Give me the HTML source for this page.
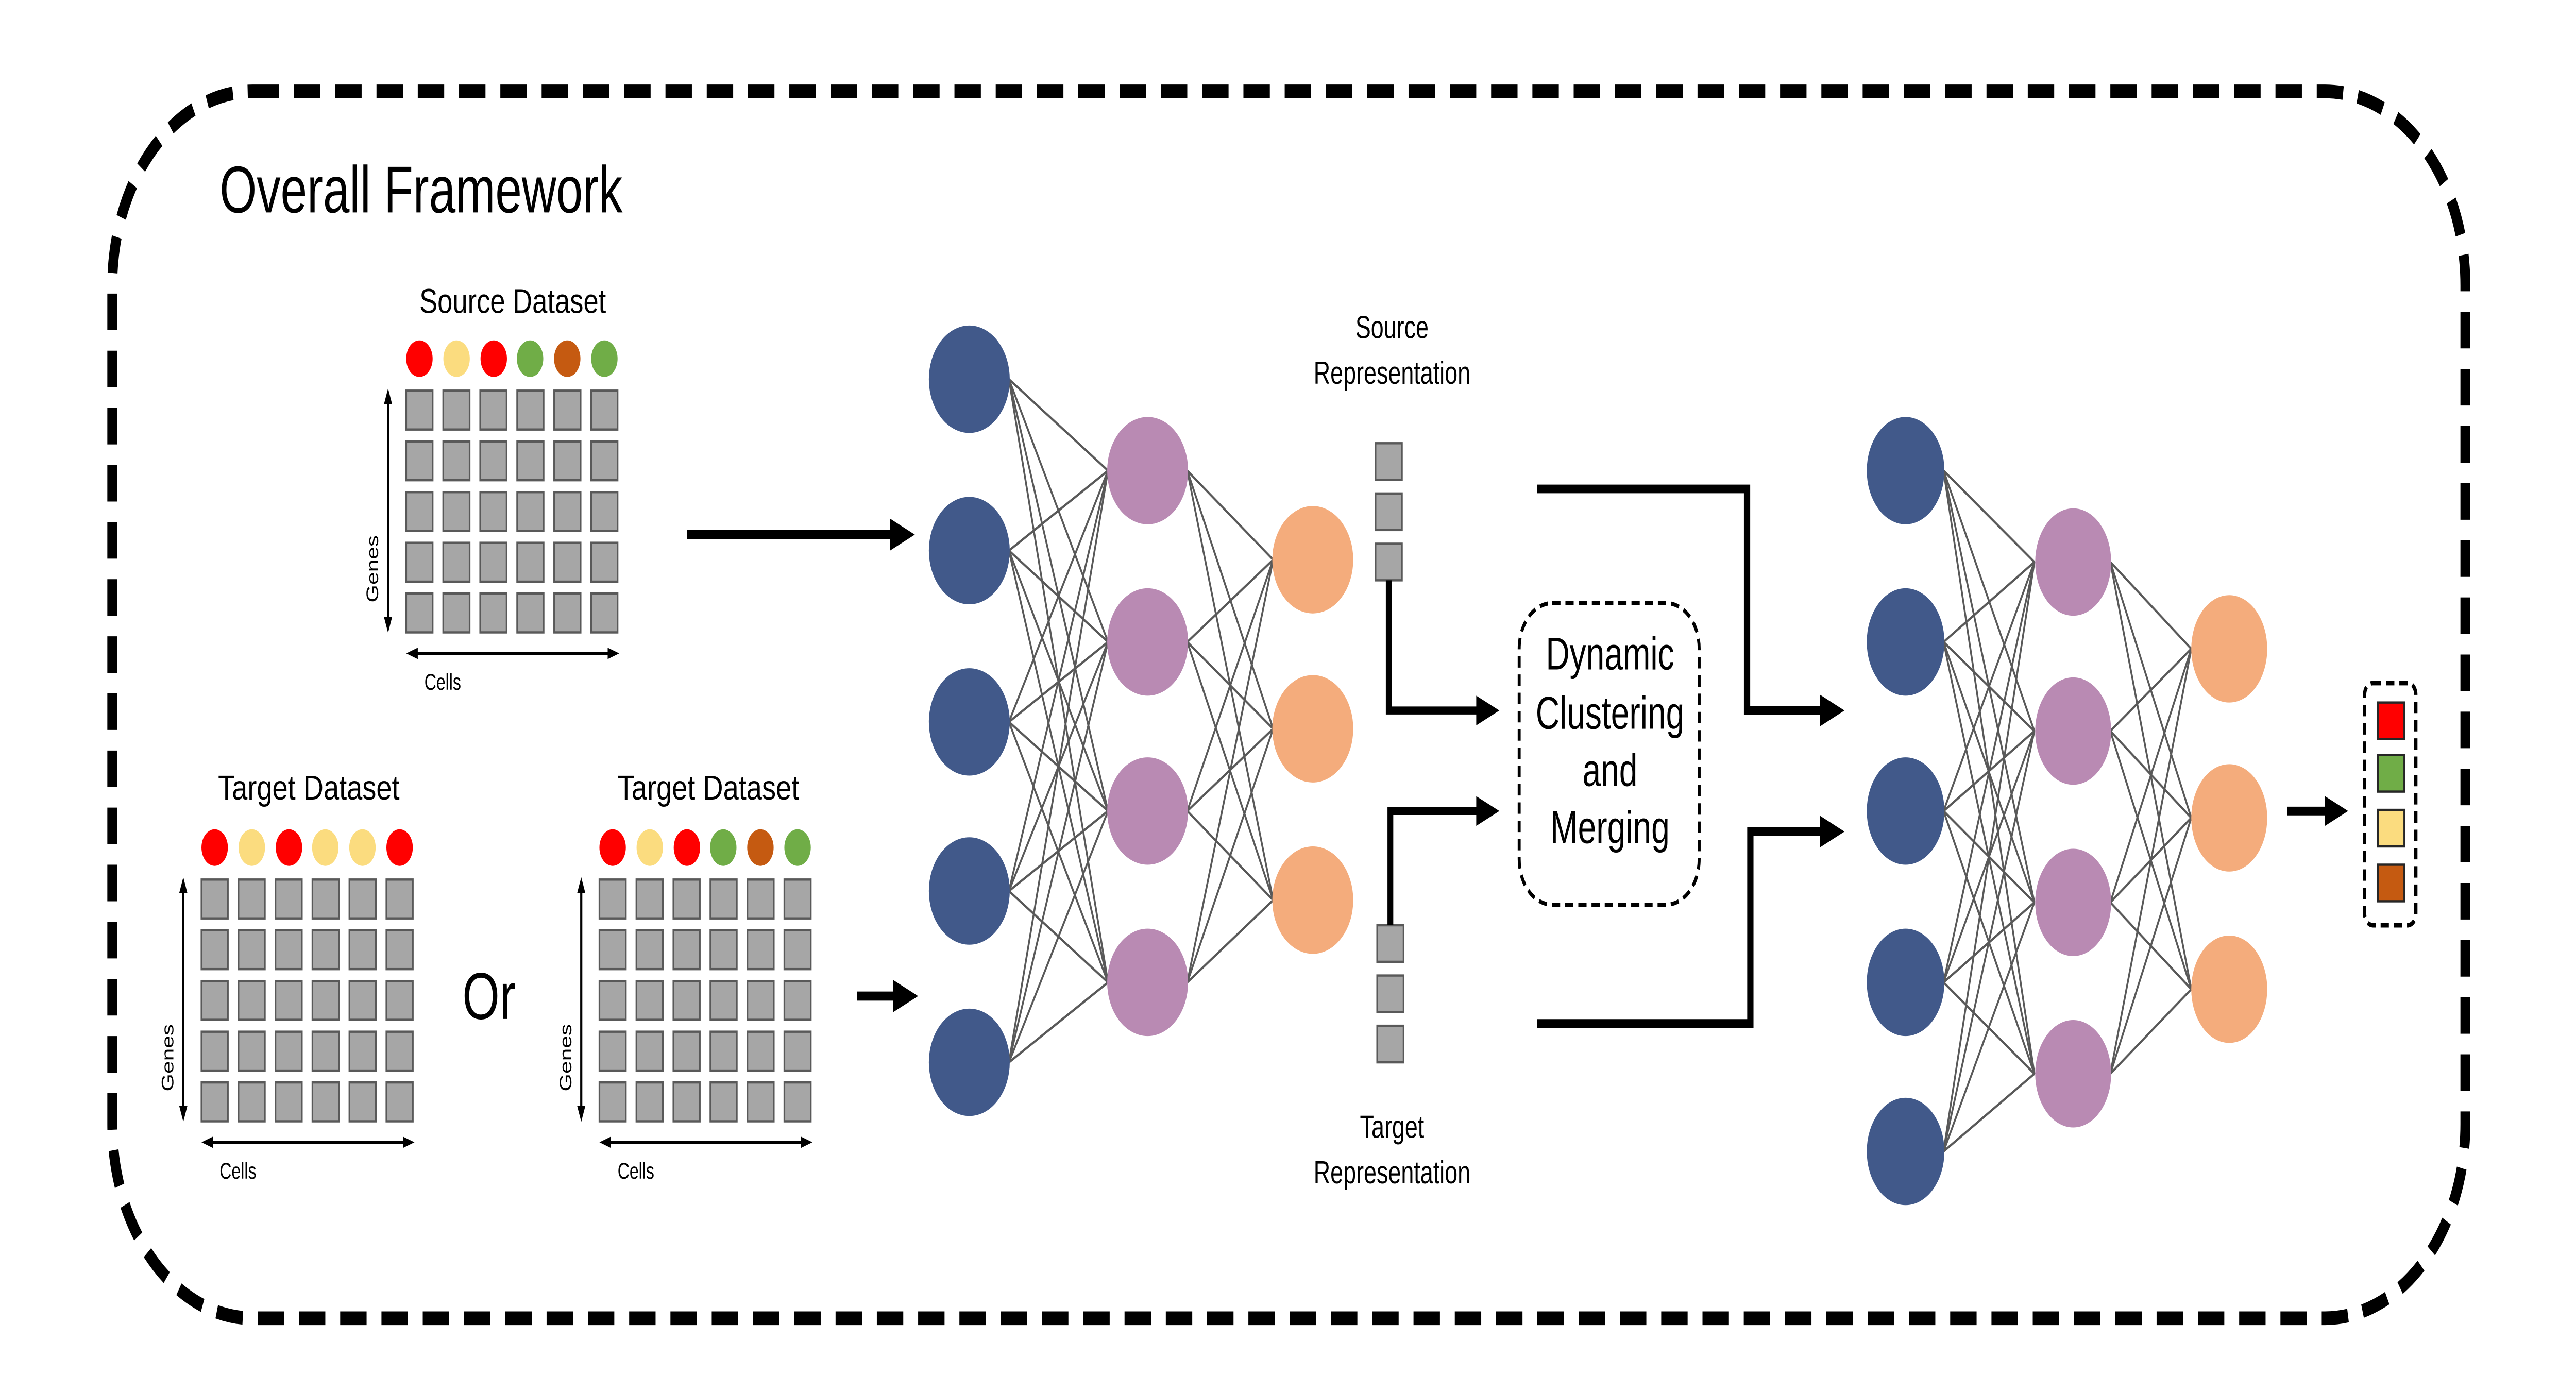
<!DOCTYPE html>
<html><head><meta charset="utf-8"><meta name="viewport" content="width=device-width, initial-scale=1"><style>html,body{margin:0;padding:0;background:#fff;width:100vw;height:100vh;overflow:hidden}svg{display:block;position:absolute;left:0;top:0;width:100vw;height:100vh}</style></head>
<body>
<svg viewBox="0 0 1560 609.3" preserveAspectRatio="none" xmlns="http://www.w3.org/2000/svg" xmlns:xlink="http://www.w3.org/1999/xlink" font-family="Liberation Sans, Arial, sans-serif">
<defs>
<g id="grid" fill="#A6A6A6" stroke="#595959" stroke-width="1">
<rect x="0" y="0" width="16" height="17"/><rect x="22.4" y="0" width="16" height="17"/><rect x="44.8" y="0" width="16" height="17"/><rect x="67.2" y="0" width="16" height="17"/><rect x="89.6" y="0" width="16" height="17"/><rect x="112" y="0" width="16" height="17"/>
<rect x="0" y="22.2" width="16" height="17"/><rect x="22.4" y="22.2" width="16" height="17"/><rect x="44.8" y="22.2" width="16" height="17"/><rect x="67.2" y="22.2" width="16" height="17"/><rect x="89.6" y="22.2" width="16" height="17"/><rect x="112" y="22.2" width="16" height="17"/>
<rect x="0" y="44.4" width="16" height="17"/><rect x="22.4" y="44.4" width="16" height="17"/><rect x="44.8" y="44.4" width="16" height="17"/><rect x="67.2" y="44.4" width="16" height="17"/><rect x="89.6" y="44.4" width="16" height="17"/><rect x="112" y="44.4" width="16" height="17"/>
<rect x="0" y="66.6" width="16" height="17"/><rect x="22.4" y="66.6" width="16" height="17"/><rect x="44.8" y="66.6" width="16" height="17"/><rect x="67.2" y="66.6" width="16" height="17"/><rect x="89.6" y="66.6" width="16" height="17"/><rect x="112" y="66.6" width="16" height="17"/>
<rect x="0" y="88.8" width="16" height="17"/><rect x="22.4" y="88.8" width="16" height="17"/><rect x="44.8" y="88.8" width="16" height="17"/><rect x="67.2" y="88.8" width="16" height="17"/><rect x="89.6" y="88.8" width="16" height="17"/><rect x="112" y="88.8" width="16" height="17"/>
</g>
<g id="axes">
<line x1="-11" y1="3" x2="-11" y2="102" stroke="#000" stroke-width="1.3"/>
<polygon points="-11,-1 -13.5,6 -8.5,6" fill="#000"/><polygon points="-11,106 -13.5,99 -8.5,99" fill="#000"/>
<line x1="4" y1="115" x2="125" y2="115" stroke="#000" stroke-width="1.3"/>
<polygon points="0,115 7,112.5 7,117.5" fill="#000"/><polygon points="129,115 122,112.5 122,117.5" fill="#000"/>
<text x="11" y="131" font-size="10">Cells</text>
<text transform="translate(-17,78) rotate(-90)" font-size="10" text-anchor="middle">Genes</text>
</g>
</defs>

<rect x="68" y="40" width="1425" height="537" rx="85" ry="85" fill="none" stroke="#000" stroke-width="6" stroke-dasharray="16,9"/>

<text x="133" y="93" font-size="29" textLength="244" lengthAdjust="spacingAndGlyphs">Overall Framework</text>

<text x="254" y="137" font-size="15" textLength="113" lengthAdjust="spacingAndGlyphs">Source Dataset</text>
<circle cx="254" cy="157" r="8" fill="#FF0000"/><circle cx="276.5" cy="157" r="8" fill="#FBDC7F"/><circle cx="299" cy="157" r="8" fill="#FF0000"/><circle cx="321" cy="157" r="8" fill="#70AD47"/><circle cx="343.5" cy="157" r="8" fill="#C55A11"/><circle cx="366" cy="157" r="8" fill="#70AD47"/>
<use href="#grid" xlink:href="#grid" x="246" y="171"/>
<use href="#axes" xlink:href="#axes" x="246" y="171"/>

<text x="132" y="350" font-size="15" textLength="110" lengthAdjust="spacingAndGlyphs">Target Dataset</text>
<circle cx="130" cy="371" r="8" fill="#FF0000"/><circle cx="152.5" cy="371" r="8" fill="#FBDC7F"/><circle cx="175" cy="371" r="8" fill="#FF0000"/><circle cx="197" cy="371" r="8" fill="#FBDC7F"/><circle cx="219.5" cy="371" r="8" fill="#FBDC7F"/><circle cx="242" cy="371" r="8" fill="#FF0000"/>
<use href="#grid" xlink:href="#grid" x="122" y="385"/>
<use href="#axes" xlink:href="#axes" x="122" y="385"/>

<text x="280" y="446" font-size="29">Or</text>

<text x="374" y="350" font-size="15" textLength="110" lengthAdjust="spacingAndGlyphs">Target Dataset</text>
<circle cx="371" cy="371" r="8" fill="#FF0000"/><circle cx="393.5" cy="371" r="8" fill="#FBDC7F"/><circle cx="416" cy="371" r="8" fill="#FF0000"/><circle cx="438" cy="371" r="8" fill="#70AD47"/><circle cx="460.5" cy="371" r="8" fill="#C55A11"/><circle cx="483" cy="371" r="8" fill="#70AD47"/>
<use href="#grid" xlink:href="#grid" x="363" y="385"/>
<use href="#axes" xlink:href="#axes" x="363" y="385"/>

<line x1="416" y1="234" x2="540" y2="234" stroke="#000" stroke-width="4"/>
<polygon points="554,234 539,227 539,241" fill="#000"/>
<line x1="519" y1="436" x2="542" y2="436" stroke="#000" stroke-width="4"/>
<polygon points="556,436 541,429 541,443" fill="#000"/>

<g stroke="#595959" stroke-width="1.1">
<line x1="611" y1="166" x2="671" y2="206"/><line x1="611" y1="166" x2="671" y2="281"/><line x1="611" y1="166" x2="671" y2="355"/><line x1="611" y1="166" x2="671" y2="430"/>
<line x1="611" y1="241" x2="671" y2="206"/><line x1="611" y1="241" x2="671" y2="281"/><line x1="611" y1="241" x2="671" y2="355"/><line x1="611" y1="241" x2="671" y2="430"/>
<line x1="611" y1="316" x2="671" y2="206"/><line x1="611" y1="316" x2="671" y2="281"/><line x1="611" y1="316" x2="671" y2="355"/><line x1="611" y1="316" x2="671" y2="430"/>
<line x1="611" y1="390" x2="671" y2="206"/><line x1="611" y1="390" x2="671" y2="281"/><line x1="611" y1="390" x2="671" y2="355"/><line x1="611" y1="390" x2="671" y2="430"/>
<line x1="611" y1="465" x2="671" y2="206"/><line x1="611" y1="465" x2="671" y2="281"/><line x1="611" y1="465" x2="671" y2="355"/><line x1="611" y1="465" x2="671" y2="430"/>
<line x1="719" y1="206" x2="771" y2="245"/><line x1="719" y1="206" x2="771" y2="319"/><line x1="719" y1="206" x2="771" y2="394"/>
<line x1="719" y1="281" x2="771" y2="245"/><line x1="719" y1="281" x2="771" y2="319"/><line x1="719" y1="281" x2="771" y2="394"/>
<line x1="719" y1="355" x2="771" y2="245"/><line x1="719" y1="355" x2="771" y2="319"/><line x1="719" y1="355" x2="771" y2="394"/>
<line x1="719" y1="430" x2="771" y2="245"/><line x1="719" y1="430" x2="771" y2="319"/><line x1="719" y1="430" x2="771" y2="394"/>
</g>
<g fill="#41598A">
<ellipse cx="587" cy="166" rx="24.5" ry="23.5"/><ellipse cx="587" cy="241" rx="24.5" ry="23.5"/><ellipse cx="587" cy="316" rx="24.5" ry="23.5"/><ellipse cx="587" cy="390" rx="24.5" ry="23.5"/><ellipse cx="587" cy="465" rx="24.5" ry="23.5"/>
</g>
<g fill="#B98AB3">
<ellipse cx="695" cy="206" rx="24.5" ry="23.5"/><ellipse cx="695" cy="281" rx="24.5" ry="23.5"/><ellipse cx="695" cy="355" rx="24.5" ry="23.5"/><ellipse cx="695" cy="430" rx="24.5" ry="23.5"/>
</g>
<g fill="#F4AC7C">
<ellipse cx="795" cy="245" rx="24.5" ry="23.5"/><ellipse cx="795" cy="319" rx="24.5" ry="23.5"/><ellipse cx="795" cy="394" rx="24.5" ry="23.5"/>
</g>

<g font-size="14" text-anchor="middle">
<text x="843" y="148">Source</text><text x="843" y="168">Representation</text>
<text x="843" y="498">Target</text><text x="843" y="518">Representation</text>
</g>
<g fill="#A6A6A6" stroke="#595959" stroke-width="1">
<rect x="833" y="194" width="16" height="16"/><rect x="833" y="216" width="16" height="16"/><rect x="833" y="238" width="16" height="16"/>
<rect x="834" y="405" width="16" height="16"/><rect x="834" y="427" width="16" height="16"/><rect x="834" y="449" width="16" height="16"/>
</g>
<polyline points="841,254 841,311 895,311" fill="none" stroke="#000" stroke-width="3.5"/>
<polygon points="908,311 894,304.5 894,317.5" fill="#000"/>
<polyline points="842,405 842,355 895,355" fill="none" stroke="#000" stroke-width="3.5"/>
<polygon points="908,355 894,348.5 894,361.5" fill="#000"/>

<rect x="920" y="264" width="109" height="132" rx="20" ry="20" fill="none" stroke="#000" stroke-width="1.8" stroke-dasharray="5,3"/>
<g font-size="20" text-anchor="middle">
<text x="975" y="293">Dynamic</text><text x="975" y="319">Clustering</text><text x="975" y="344">and</text><text x="975" y="369">Merging</text>
</g>

<polyline points="931,214 1058,214 1058,311 1103,311" fill="none" stroke="#000" stroke-width="3.8"/>
<polygon points="1117,311 1102,304 1102,318" fill="#000"/>
<polyline points="931,448 1060,448 1060,364 1103,364" fill="none" stroke="#000" stroke-width="3.8"/>
<polygon points="1117,364 1102,357 1102,371" fill="#000"/>

<g stroke="#595959" stroke-width="1.1">
<line x1="1177" y1="206" x2="1232" y2="246"/><line x1="1177" y1="206" x2="1232" y2="320"/><line x1="1177" y1="206" x2="1232" y2="395"/><line x1="1177" y1="206" x2="1232" y2="470"/>
<line x1="1177" y1="281" x2="1232" y2="246"/><line x1="1177" y1="281" x2="1232" y2="320"/><line x1="1177" y1="281" x2="1232" y2="395"/><line x1="1177" y1="281" x2="1232" y2="470"/>
<line x1="1177" y1="355" x2="1232" y2="246"/><line x1="1177" y1="355" x2="1232" y2="320"/><line x1="1177" y1="355" x2="1232" y2="395"/><line x1="1177" y1="355" x2="1232" y2="470"/>
<line x1="1177" y1="430" x2="1232" y2="246"/><line x1="1177" y1="430" x2="1232" y2="320"/><line x1="1177" y1="430" x2="1232" y2="395"/><line x1="1177" y1="430" x2="1232" y2="470"/>
<line x1="1177" y1="504" x2="1232" y2="246"/><line x1="1177" y1="504" x2="1232" y2="320"/><line x1="1177" y1="504" x2="1232" y2="395"/><line x1="1177" y1="504" x2="1232" y2="470"/>
<line x1="1278" y1="246" x2="1327" y2="284"/><line x1="1278" y1="246" x2="1327" y2="358"/><line x1="1278" y1="246" x2="1327" y2="433"/>
<line x1="1278" y1="320" x2="1327" y2="284"/><line x1="1278" y1="320" x2="1327" y2="358"/><line x1="1278" y1="320" x2="1327" y2="433"/>
<line x1="1278" y1="395" x2="1327" y2="284"/><line x1="1278" y1="395" x2="1327" y2="358"/><line x1="1278" y1="395" x2="1327" y2="433"/>
<line x1="1278" y1="470" x2="1327" y2="284"/><line x1="1278" y1="470" x2="1327" y2="358"/><line x1="1278" y1="470" x2="1327" y2="433"/>
</g>
<g fill="#41598A">
<ellipse cx="1154" cy="206" rx="23.5" ry="23.5"/><ellipse cx="1154" cy="281" rx="23.5" ry="23.5"/><ellipse cx="1154" cy="355" rx="23.5" ry="23.5"/><ellipse cx="1154" cy="430" rx="23.5" ry="23.5"/><ellipse cx="1154" cy="504" rx="23.5" ry="23.5"/>
</g>
<g fill="#B98AB3">
<ellipse cx="1255.5" cy="246" rx="23" ry="23.5"/><ellipse cx="1255.5" cy="320" rx="23" ry="23.5"/><ellipse cx="1255.5" cy="395" rx="23" ry="23.5"/><ellipse cx="1255.5" cy="470" rx="23" ry="23.5"/>
</g>
<g fill="#F4AC7C">
<ellipse cx="1350" cy="284" rx="23" ry="23.5"/><ellipse cx="1350" cy="358" rx="23" ry="23.5"/><ellipse cx="1350" cy="433" rx="23" ry="23.5"/>
</g>

<line x1="1385" y1="355" x2="1410" y2="355" stroke="#000" stroke-width="3.8"/>
<polygon points="1422,355 1408,348.5 1408,361.5" fill="#000"/>

<rect x="1432" y="299" width="31" height="106" rx="5" ry="5" fill="none" stroke="#000" stroke-width="2" stroke-dasharray="5,3"/>
<g stroke="#262626" stroke-width="1">
<rect x="1440" y="307.5" width="16" height="16" fill="#FF0000"/>
<rect x="1440" y="330.5" width="16" height="16" fill="#70AD47"/>
<rect x="1440" y="354.5" width="16" height="16" fill="#FBDC7F"/>
<rect x="1440" y="378.5" width="16" height="16" fill="#C55A11"/>
</g>
</svg>
</body></html>
